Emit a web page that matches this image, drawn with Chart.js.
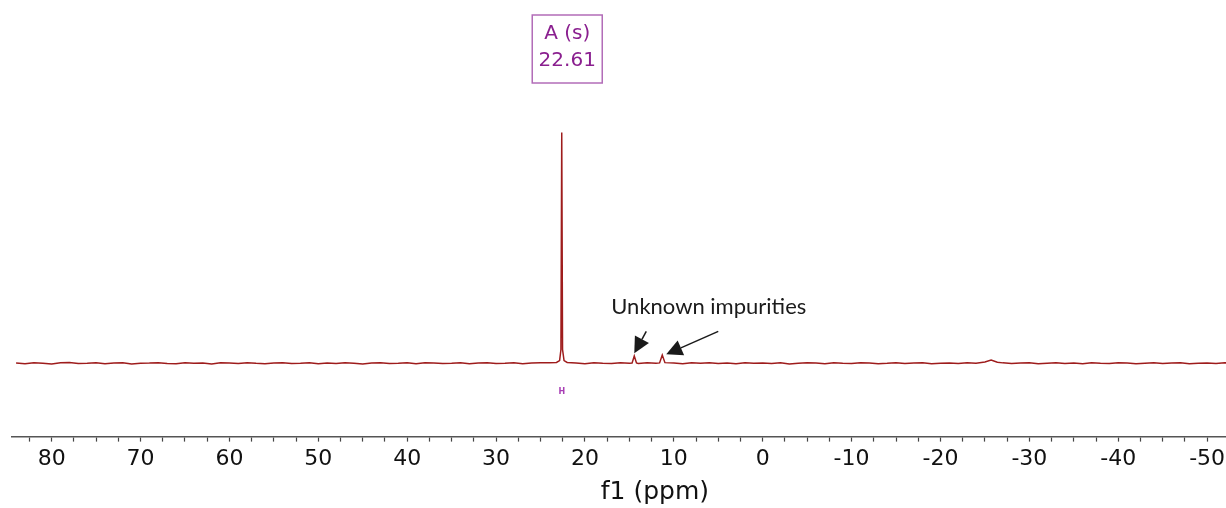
<!DOCTYPE html>
<html lang="en">
<head>
<meta charset="UTF-8">
<title>f1 spectrum</title>
<style>
  html, body { margin: 0; padding: 0; background: #fff; overflow: hidden; }
  #wrap { position: relative; width: 1300px; height: 508px; }
</style>
</head>
<body>
<div id="wrap"><canvas id="spectrum"></canvas></div>
<script src="https://cdn.jsdelivr.net/npm/chart.js@4/dist/chart.umd.min.js"></script>
<script>
// chemical shift (ppm) and intensity (main singlet = 100)
var shifts = [
  84, 83, 82, 81, 80, 79, 78, 77, 76, 75,
  74, 73, 72, 71, 70, 69, 68, 67, 66, 65,
  64, 63, 62, 61, 60, 59, 58, 57, 56, 55,
  54, 53, 52, 51, 50, 49, 48, 47, 46, 45,
  44, 43, 42, 41, 40, 39, 38, 37, 36, 35,
  34, 33, 32, 31, 30, 29, 28, 27, 26, 25,
  24,
  23.2, 22.85, 22.7, 22.61, 22.52, 22.35, 22.0,
  21, 20, 19, 18, 17, 16, 15,
  14.7, 14.45, 14.2,
  14, 13, 12,
  11.6, 11.3, 11.0,
  10, 9, 8, 7, 6, 5, 4, 3, 2, 1,
  0, -1, -2, -3, -4, -5, -6, -7, -8, -9,
  -10, -11, -12, -13, -14, -15, -16, -17, -18, -19,
  -20, -21, -22, -23, -24,
  -25, -25.7, -26.4,
  -27, -28, -29, -30, -31, -32, -33, -34, -35, -36,
  -37, -38, -39, -40, -41, -42, -43, -44, -45, -46,
  -47, -48, -49, -50, -51, -52, -53, -54, -55, -56,
  -57, -58, -59, -60
];
var intensity = [
  0.1, -0.2, 0.3, 0, -0.3, 0.2, 0.4, -0.1, 0, 0.3,
  -0.2, 0.1, 0.2, -0.3, 0, 0.1, 0.3, -0.1, -0.2, 0.2,
  0, 0.1, -0.3, 0.2, 0.1, -0.1, 0.3, 0, -0.2, 0.1,
  0.2, -0.1, 0, 0.3, -0.2, 0.1, -0.1, 0.2, 0, -0.3,
  0.1, 0.2, -0.1, 0, 0.2, -0.2, 0.3, 0.1, -0.1, 0,
  0.2, -0.2, 0.1, 0.3, -0.1, 0, 0.2, -0.2, 0.1, 0.3,
  0.2,
  0.4, 1.2, 6, 100, 6, 1.2, 0.4,
  0.1, -0.2, 0.2, 0, -0.1, 0.3, 0,
  0.1, 3.2, 0.2,
  -0.1, 0.2, 0,
  0.2, 3.6, 0.3,
  0.1, -0.2, 0.2, 0, 0.3, -0.1, 0.1, -0.2, 0.2, 0,
  0.1, -0.1, 0.2, -0.3, 0, 0.2, 0.1, -0.2, 0.3, 0,
  -0.1, 0.2, 0.1, -0.2, 0, 0.3, -0.1, 0.1, 0.2, -0.2,
  0, 0.1, -0.1, 0.2, 0,
  0.6, 1.4, 0.5,
  0.2, -0.1, 0.1, 0.3, -0.2, 0, 0.2, -0.1, 0.1, -0.2,
  0.2, 0, -0.1, 0.3, 0.1, -0.2, 0, 0.2, -0.1, 0.1,
  0.3, -0.2, 0, 0.1, -0.1, 0.2, 0, -0.2, 0.1, 0.2,
  -0.1, 0, 0.1, -0.1
];

var peakName = 'A (s)';
var peakShift = 22.61;
var impurityShifts = [14.45, 11.3];
var impurityText = 'Unknown impurities';

var points = shifts.map(function (s, i) { return { x: s, y: intensity[i] }; });

function arrow(ctx, x0, y0, x1, y1) {
  var a = Math.atan2(y1 - y0, x1 - x0);
  var len = 16, half = 8;
  var bx = x1 - len * Math.cos(a), by = y1 - len * Math.sin(a);
  ctx.beginPath();
  ctx.moveTo(x0, y0);
  ctx.lineTo(bx, by);
  ctx.stroke();
  ctx.beginPath();
  ctx.moveTo(x1, y1);
  ctx.lineTo(bx + half * Math.sin(a), by - half * Math.cos(a));
  ctx.lineTo(bx - half * Math.sin(a), by + half * Math.cos(a));
  ctx.closePath();
  ctx.fill();
}

var annotations = {
  id: 'annotations',
  afterDatasetsDraw: function (chart) {
    var ctx = chart.ctx;
    var x = chart.scales.x, y = chart.scales.y;
    var base = y.getPixelForValue(0);
    var px = x.getPixelForValue(peakShift);
    ctx.save();

    // peak label box
    var cx = px + 5.5;
    ctx.strokeStyle = '#b26cb8';
    ctx.lineWidth = 1.5;
    ctx.strokeRect(cx - 35, 15, 70, 68);
    ctx.fillStyle = '#8a1f8f';
    ctx.font = '20px "DejaVu Sans"';
    ctx.textAlign = 'center';
    ctx.textBaseline = 'middle';
    ctx.fillText(peakName, cx, 34);
    ctx.fillText(peakShift.toFixed(2), cx, 61);

    // multiplet marker under the peak
    ctx.font = 'bold 8px "DejaVu Sans"';
    ctx.fillStyle = '#a83fb5';
    ctx.fillText('H', px, base + 29);

    // impurity note + arrows
    var p1 = x.getPixelForValue(impurityShifts[0]);
    var p2 = x.getPixelForValue(impurityShifts[1]);
    ctx.fillStyle = '#1a1a1a';
    ctx.font = '22px Lato';
    ctx.textAlign = 'left';
    ctx.fillText(impurityText, p1 - 23, base - 56);

    ctx.strokeStyle = '#1a1a1a';
    ctx.lineWidth = 1.5;
    arrow(ctx, p1 + 12, base - 32, p1, base - 10);
    arrow(ctx, p2 + 56, base - 32, p2 + 4, base - 9);
    ctx.restore();
  }
};

var ctx = document.getElementById('spectrum').getContext('2d');
var chart = new Chart(ctx, {
  type: 'line',
  data: {
    datasets: [{
      data: points,
      borderColor: '#9e1c1c',
      borderWidth: 1.5,
      pointRadius: 0,
      tension: 0,
      fill: false
    }]
  },
  options: {
    responsive: true,
    maintainAspectRatio: false,
    animation: false,
    layout: { padding: { left: 12, right: 0, top: 0, bottom: 0 } },
    plugins: { legend: { display: false }, tooltip: { enabled: false } },
    scales: {
      x: {
        type: 'linear',
        reverse: true,
        min: -60.2,
        max: 84.46,
        grid: { drawOnChartArea: false, drawTicks: true, tickLength: 5, tickColor: '#444', tickWidth: 1.2 },
        border: { display: true, color: '#555', width: 1.5 },
        ticks: {
          stepSize: 2.5,
          includeBounds: false,
          autoSkip: false,
          maxRotation: 0,
          maxTicksLimit: 200,
          padding: 4,
          color: '#111',
          font: { family: 'DejaVu Sans', size: 22 },
          callback: function (v) {
            // labels every 10 ppm, nothing past -50 (off the page)
            if (v < -55) return '';
            return Math.abs(v % 10) < 1e-6 ? String(Math.round(v)) : '';
          }
        },
        title: {
          display: true,
          text: 'f1 (ppm)',
          color: '#111',
          font: { family: 'DejaVu Sans', size: 25 },
          padding: { top: 1, bottom: 1 }
        }
      },
      y: { display: false, min: -31.74, max: 157.4 }
    }
  },
  plugins: [annotations]
});
</script>
</body>
</html>
